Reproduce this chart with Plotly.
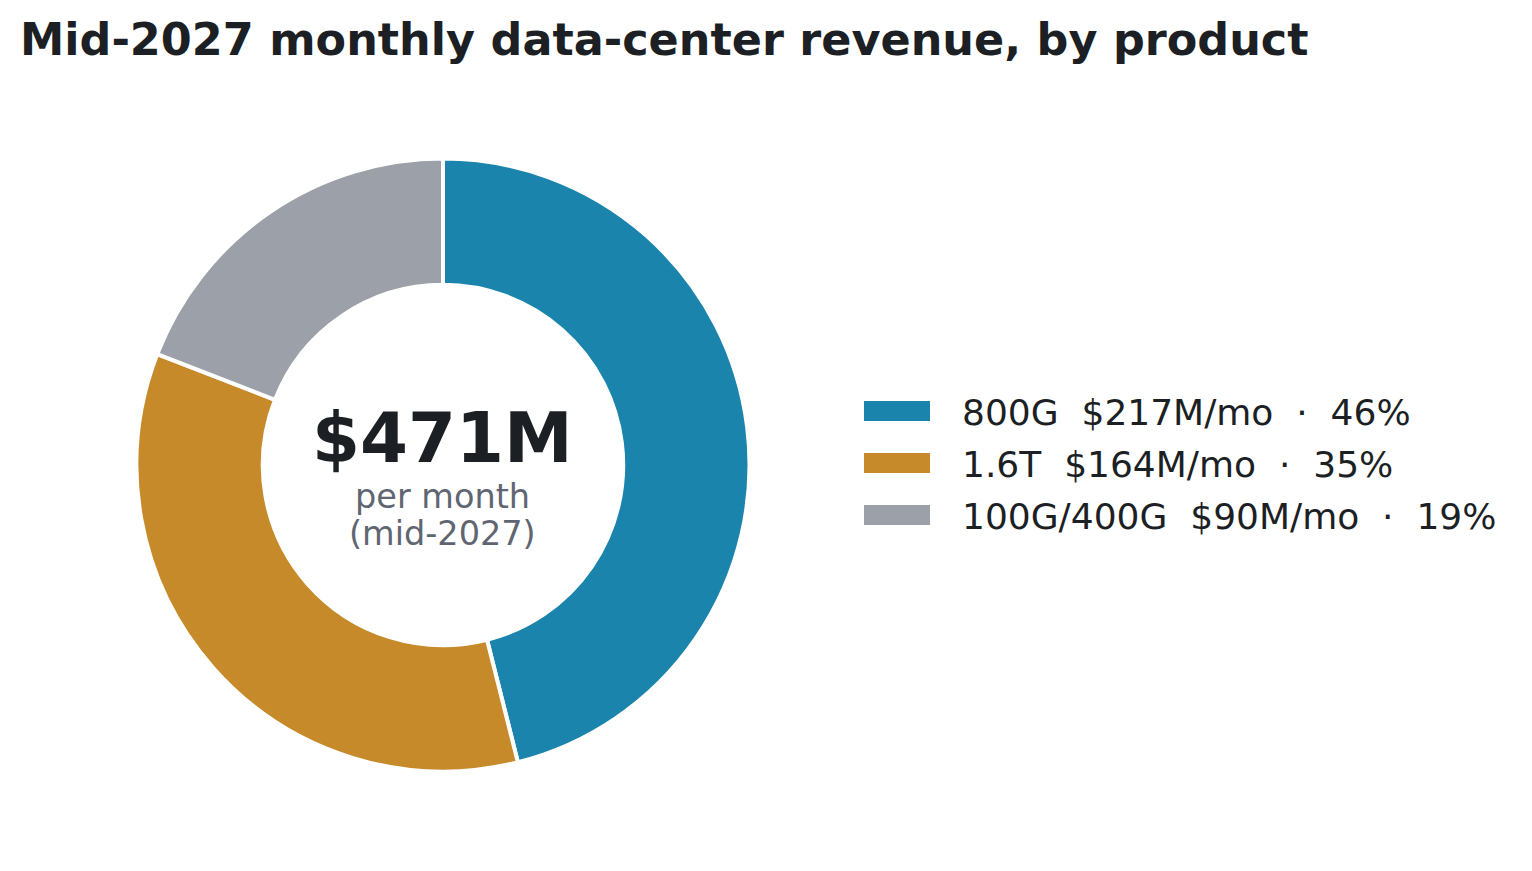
import plotly.graph_objects as go

# ---- data ----
categories = ["800G", "1.6T", "100G/400G"]
revenue_musd = [217, 164, 90]
colors = ["#1a84ad", "#c78a2a", "#9ca0a8"]
title_text = "Mid-2027 monthly data-center revenue, by product"
center_sub = ["per month", "(mid-2027)"]

W, H = 1532, 871
total = sum(revenue_musd)
pcts = [round(v * 100 / total) for v in revenue_musd]
NB = "\u00a0\u00a0"
labels = [f"{c}{NB}${v}M/mo{NB}·{NB}{p}%" for c, v, p in zip(categories, revenue_musd, pcts)]

# pie geometry (pixels -> paper)
cx, cy, R = 443, 465, 306.5
dom_x = [0, 2 * cx / W]
dom_y = [1 - (cy + R) / H, 1 - (cy - R) / H]

fig = go.Figure(go.Pie(
    labels=categories,
    values=revenue_musd,
    hole=0.588,
    sort=False,
    direction="clockwise",
    rotation=0,
    textinfo="none",
    hoverinfo="label+value+percent",
    marker=dict(colors=colors, line=dict(color="white", width=4)),
    domain=dict(x=dom_x, y=dom_y),
    showlegend=False,
))

dark = "#1c1f24"
sub = "#5f6672"
font_family = "DejaVu Sans"

annotations = [
    dict(text=f"<b>${total}M</b>", x=cx / W, y=1 - 438 / H, xref="paper", yref="paper",
         showarrow=False, font=dict(size=69, color=dark, family=font_family),
         xanchor="center", yanchor="middle"),
    dict(text=center_sub[0], x=cx / W, y=1 - 496 / H, xref="paper", yref="paper",
         showarrow=False, font=dict(size=33.5, color=sub, family=font_family),
         xanchor="center", yanchor="middle"),
    dict(text=center_sub[1], x=cx / W, y=1 - 533 / H, xref="paper", yref="paper",
         showarrow=False, font=dict(size=33.5, color=sub, family=font_family),
         xanchor="center", yanchor="middle"),
]

# custom legend (wide swatches)
leg_x0, sw_w, sw_h, text_x, row0, row_gap = 864, 66, 20, 960, 411, 52
shapes = []
for i, (lab, col) in enumerate(zip(labels, colors)):
    yc = row0 + i * row_gap
    shapes.append(dict(type="rect", xref="paper", yref="paper",
                       x0=leg_x0 / W, x1=(leg_x0 + sw_w) / W,
                       y0=1 - (yc + sw_h / 2) / H, y1=1 - (yc - sw_h / 2) / H,
                       fillcolor=col, line=dict(width=0)))
    annotations.append(dict(text=lab, x=text_x / W, y=1 - (yc + 1) / H, xref="paper", yref="paper",
                            showarrow=False, xanchor="left", yanchor="middle",
                            font=dict(size=36, color=dark, family=font_family)))

fig.update_layout(
    width=W, height=H,
    margin=dict(l=0, r=0, t=0, b=0),
    paper_bgcolor="white", plot_bgcolor="white",
    font=dict(family=font_family, color=dark),
    title=dict(text=f"<b>{title_text}</b>", x=20 / W, xanchor="left", xref="paper",
               y=1 - 39 / H, yanchor="middle", yref="container",
               font=dict(size=44.5, color=dark, family=font_family)),
    annotations=annotations,
    shapes=shapes,
)

fig.write_html("out.html")
